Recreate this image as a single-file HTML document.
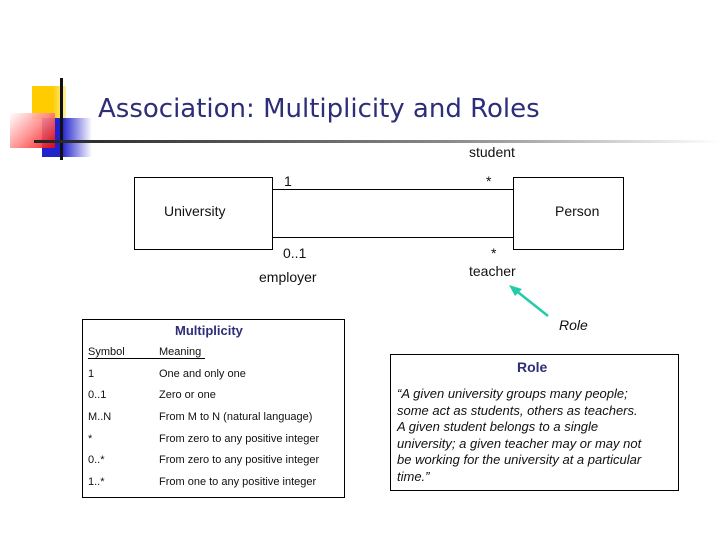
<!DOCTYPE html>
<html><head><meta charset="utf-8"><style>
body{margin:0;width:720px;height:540px;background:#fff;position:relative;overflow:hidden;font-family:"Liberation Sans",sans-serif;}
.a{position:absolute;}
.t{position:absolute;font-size:14px;color:#111;white-space:nowrap;}
.s{position:absolute;font-size:11px;color:#111;white-space:nowrap;}
</style></head><body>
<div class="a" style="left:32px;top:86px;width:34px;height:33px;background:linear-gradient(90deg,#ffcc00 60%,#fff0a0);"></div>
<div class="a" style="left:42px;top:118px;width:50px;height:39px;background:linear-gradient(90deg,#2222cc 40%,#fff);"></div>
<div class="a" style="left:10px;top:113px;width:45px;height:35px;background:linear-gradient(135deg,#fff 0%,#ff8888 50%,#ee0000 100%);opacity:.9"></div>
<div class="a" style="left:60px;top:78px;width:3px;height:82px;background:#111;"></div>
<div class="a" style="left:34px;top:140px;width:686px;height:3px;background:linear-gradient(90deg,#222,#888 60%,#fff);"></div>
<div class="a" style="left:98px;top:94px;font-size:26px;font-family:'DejaVu Sans',sans-serif;color:#2d2d7a;white-space:nowrap;">Association: Multiplicity and Roles</div>

<div class="a" style="left:134px;top:177px;width:137px;height:71px;border:1px solid #000;"></div>
<div class="a" style="left:513px;top:177px;width:109px;height:71px;border:1px solid #000;"></div>
<div class="a" style="left:272px;top:189px;width:241px;height:1px;background:#000;"></div>
<div class="a" style="left:272px;top:237px;width:241px;height:1px;background:#000;"></div>
<div class="t" style="left:164px;top:203px;">University</div>
<div class="t" style="left:555px;top:203px;">Person</div>
<div class="t" style="left:469px;top:144px;">student</div>
<div class="t" style="left:284px;top:173px;">1</div>
<div class="t" style="left:486px;top:173px;">*</div>
<div class="t" style="left:283px;top:245px;">0..1</div>
<div class="t" style="left:259px;top:269px;">employer</div>
<div class="t" style="left:491px;top:245px;">*</div>
<div class="t" style="left:469px;top:263px;">teacher</div>
<svg class="a" style="left:500px;top:280px" width="60" height="40"><line x1="48" y1="36" x2="14" y2="9" stroke="#22ccaa" stroke-width="2.5"/><polygon points="9,5 22,9 15,16" fill="#22ccaa"/></svg>
<div class="t" style="left:559px;top:317px;font-style:italic;">Role</div>

<div class="a" style="left:82px;top:319px;width:261px;height:177px;border:1px solid #000;"></div>
<div class="a" style="left:175px;top:323px;font-size:13px;font-weight:bold;color:#2d2d7a;">Multiplicity</div>
<div class="s" style="left:88px;top:346px;">Symbol</div>
<div class="s" style="left:159px;top:346px;">Meaning</div>
<div class="a" style="left:88px;top:358px;width:117px;height:1px;background:#000;"></div>
<div class="s" style="left:88px;top:368px;">1</div><div class="s" style="left:159px;top:368px;">One and only one</div>
<div class="s" style="left:88px;top:389px;">0..1</div><div class="s" style="left:159px;top:389px;">Zero or one</div>
<div class="s" style="left:88px;top:411px;">M..N</div><div class="s" style="left:159px;top:411px;">From M to N (natural language)</div>
<div class="s" style="left:88px;top:433px;">*</div><div class="s" style="left:159px;top:433px;">From zero to any positive integer</div>
<div class="s" style="left:88px;top:454px;">0..*</div><div class="s" style="left:159px;top:454px;">From zero to any positive integer</div>
<div class="s" style="left:88px;top:476px;">1..*</div><div class="s" style="left:159px;top:476px;">From one to any positive integer</div>

<div class="a" style="left:390px;top:354px;width:287px;height:135px;border:1px solid #000;"></div>
<div class="a" style="left:517px;top:359px;font-size:14px;font-weight:bold;color:#2d2d7a;">Role</div>
<div class="a" style="left:397px;top:386px;font-size:13px;line-height:16.6px;font-style:italic;color:#111;white-space:nowrap;">“A given university groups many people;<br>some act as students, others as teachers.<br>A given student belongs to a single<br>university; a given teacher may or may not<br>be working for the university at a particular<br>time.”</div>
</body></html>
